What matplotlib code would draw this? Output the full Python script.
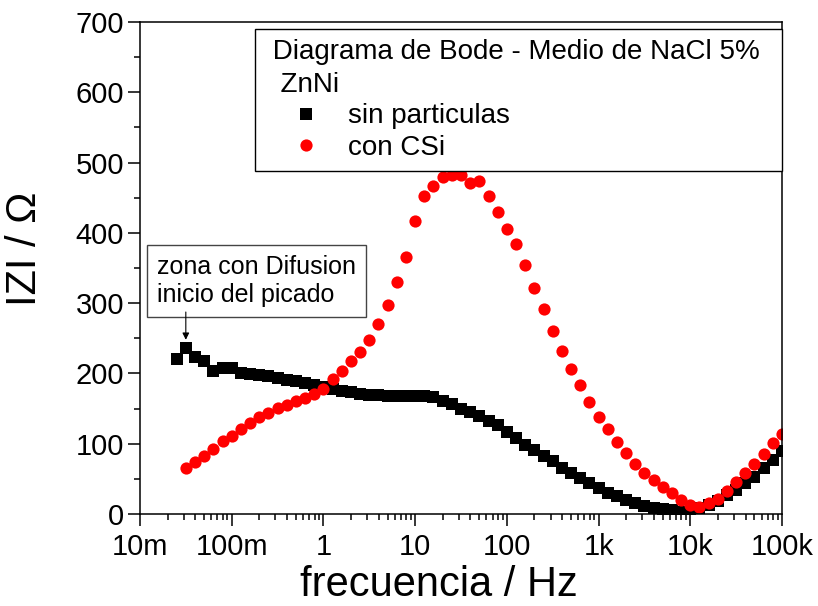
import numpy as np
import matplotlib
matplotlib.use('Agg')
import matplotlib.pyplot as plt
from matplotlib.ticker import FixedLocator, LogLocator, MultipleLocator, NullFormatter

plt.rcParams['font.family'] = ['Liberation Sans', 'DejaVu Sans']

# frequency grid of the measurement (Hz), 10 points per decade
freq = [0.02512, 0.03162, 0.03981, 0.05012, 0.06310, 0.07943,
        0.1, 0.1259, 0.1585, 0.1995, 0.2512, 0.3162, 0.3981, 0.5012, 0.6310, 0.7943,
        1, 1.259, 1.585, 1.995, 2.512, 3.162, 3.981, 5.012, 6.310, 7.943,
        10, 12.59, 15.85, 19.95, 25.12, 31.62, 39.81, 50.12, 63.10, 79.43,
        100, 125.9, 158.5, 199.5, 251.2, 316.2, 398.1, 501.2, 631.0, 794.3,
        1000, 1259, 1585, 1995, 2512, 3162, 3981, 5012, 6310, 7943,
        10000, 12589, 15849, 19953, 25119, 31623, 39811, 50119, 63096, 79433,
        100000]

# |Z| sin particulas (starts at 0.025 Hz)
z_sin = [220, 236, 224, 218, 203, 208, 208, 201, 199, 198,
         196, 194, 191, 189, 187, 184, 181, 178, 175, 173,
         171, 170, 169, 168, 168, 168, 168, 168, 166, 161,
         156, 150, 145, 139, 133, 127, 117, 108, 98, 91,
         82, 75, 66, 58, 51, 44, 37, 30, 25, 20,
         16, 12, 9, 7, 5, 3, 3, 8, 13, 19,
         27, 34, 44, 53, 65, 77, 89]

# |Z| con CSi (starts at 0.032 Hz)
z_csi = [66, 74, 83, 93, 104, 111, 121, 130, 138, 144,
         151, 155, 161, 165, 171, 178, 192, 204, 217, 230,
         248, 270, 297, 330, 366, 417, 452, 466, 480, 483,
         482, 471, 474, 452, 430, 406, 384, 354, 321, 291,
         261, 232, 206, 184, 160, 138, 121, 103, 87, 71,
         59, 49, 38, 30, 20, 13, 10, 15, 21, 33,
         45, 58, 71, 86, 101, 114]

xticks = [0.01, 0.1, 1, 10, 100, 1000, 10000, 100000]
xticklabels = ['10m', '100m', '1', '10', '100', '1k', '10k', '100k']

fig = plt.figure(figsize=(8.18, 6.06), dpi=100)
ax = fig.add_axes([0.1711, 0.1518, 0.7849, 0.8119])

ax.plot(freq, z_sin, 's', color='black', ms=8.6, mew=0, label='sin particulas')
ax.plot(freq[1:], z_csi, 'o', color='#ff0000', ms=8.8, mew=0, label='con CSi')

ax.set_xscale('log')
ax.set_xlim(0.01, 100000)
ax.set_ylim(0, 700)

ax.xaxis.set_major_locator(FixedLocator(xticks))
ax.set_xticklabels(xticklabels)
ax.xaxis.set_minor_locator(LogLocator(base=10, subs=np.arange(2, 10), numticks=20))
ax.xaxis.set_minor_formatter(NullFormatter())
ax.yaxis.set_major_locator(MultipleLocator(100))
ax.yaxis.set_minor_locator(MultipleLocator(50))

ax.tick_params(which='major', direction='out', length=8.5, width=1.1, labelsize=21, pad=3)
ax.tick_params(axis='x', which='major', pad=5)
ax.tick_params(which='minor', direction='out', length=4, width=1.1)
for s in ax.spines.values():
    s.set_linewidth(1.1)

ax.set_xlabel('frecuencia / Hz', fontsize=30)
ax.set_ylabel('IZI / Ω', fontsize=30)
ax.xaxis.set_label_coords(0.466, -0.103)
ax.yaxis.set_label_coords(-0.148, 0.54)

leg = ax.legend(loc='upper left', bbox_to_anchor=(0.179, 0.0, 0.821, 0.9858),
                mode='expand', fontsize=20, numpoints=1,
                title=' Diagrama de Bode - Medio de NaCl 5%\n  ZnNi',
                title_fontsize=20, alignment='left', fancybox=False,
                frameon=True, edgecolor='black', framealpha=1,
                borderpad=0.35, handlelength=3.0, handletextpad=0.0,
                labelspacing=0.2, borderaxespad=0)
leg.get_frame().set_linewidth(1.0)
leg.get_title().set_linespacing(1.35)

# annotation of the first peak of the black curve
ax.text(0.0262, 0.527, 'zona con Difusion\ninicio del picado', transform=ax.transAxes,
        fontsize=18, ha='left', va='top', linespacing=1.25,
        bbox=dict(boxstyle='square,pad=0.4', fc='white', ec='#444444', lw=1.0))
ax.annotate('', xy=(freq[1], z_sin[1]), xytext=(0, 26), textcoords='offset points',
            arrowprops=dict(arrowstyle='-|>', color='black', lw=0.8,
                            mutation_scale=10, shrinkA=0, shrinkB=6))

fig.savefig('out.png', dpi=100)
